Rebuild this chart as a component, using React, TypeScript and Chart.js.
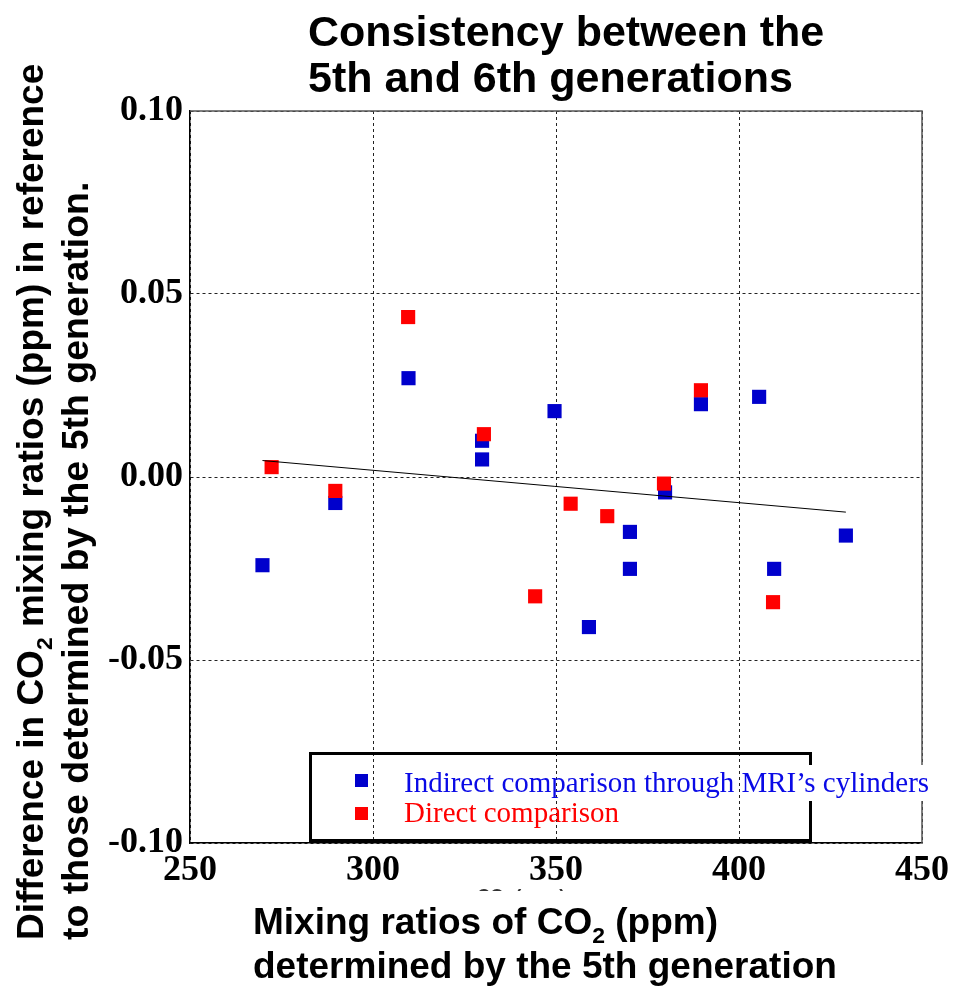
import React, { useEffect, useRef } from 'react';
import { Chart, registerables } from 'chart.js';

Chart.register(...registerables);

// ---- data ----
const blueX = [269.8, 289.7, 309.7, 329.8, 329.8, 349.6, 359.0, 370.2, 370.2, 379.8, 389.6, 405.5, 409.6, 429.2];
const blueY = [-0.0241, -0.0071, 0.0270, 0.0099, 0.0048, 0.0180, -0.0410, -0.0150, -0.0251, -0.0042, 0.0199, 0.0219, -0.0251, -0.0160];
const redX = [272.3, 289.7, 309.6, 330.3, 344.3, 354.0, 364.0, 379.5, 389.6, 409.3];
const redY = [0.0027, -0.0038, 0.0437, 0.0117, -0.0326, -0.0073, -0.0107, -0.0018, 0.0237, -0.0342];
const trendX = [269.8, 429.2];
const trendY = [0.0045, -0.0096];
const xTicks = [250, 300, 350, 400, 450];
const yTicks = [-0.1, -0.05, 0.0, 0.05, 0.1];

const titleLines = ['Consistency between the', '5th and 6th generations'];
const blueLabel = 'Indirect comparison through MRI\u2019s cylinders';
const redLabel = 'Direct comparison';

type Part = { t: string; sub?: boolean };
const yTitle1: Part[] = [{ t: 'Difference in CO' }, { t: '2', sub: true }, { t: ' mixing ratios (ppm) in reference' }];
const yTitle2: Part[] = [{ t: 'to those determined by the 5th generation.' }];
const xTitle1: Part[] = [{ t: 'Mixing ratios of CO' }, { t: '2', sub: true }, { t: ' (ppm)' }];
const xTitle2: Part[] = [{ t: 'determined by the 5th generation' }];

const BLUE = '#0000cc';
const RED = '#ff0000';
const SANS = '"Liberation Sans", Arial, sans-serif';
const SERIF = '"Liberation Serif", "Times New Roman", serif';

function drawRich(ctx: CanvasRenderingContext2D, parts: Part[], x: number, y: number, size: number) {
  let cx = x;
  for (const p of parts) {
    const s = p.sub ? size * 0.62 : size;
    ctx.font = `bold ${s}px ${SANS}`;
    ctx.fillText(p.t, cx, y + (p.sub ? size * 0.24 : 0));
    cx += ctx.measureText(p.t).width;
  }
}

const decorPlugin = {
  id: 'decor',
  afterDraw(chart: any) {
    const ctx: CanvasRenderingContext2D = chart.ctx;
    const a = chart.chartArea;
    ctx.save();
    // top and right frame
    ctx.strokeStyle = '#555';
    ctx.lineWidth = 1.5;
    ctx.setLineDash([]);
    ctx.beginPath();
    ctx.moveTo(a.left, a.top);
    ctx.lineTo(a.right, a.top);
    ctx.lineTo(a.right, a.bottom);
    ctx.stroke();

    ctx.fillStyle = '#000';
    ctx.textAlign = 'left';
    ctx.textBaseline = 'alphabetic';

    // chart title
    ctx.font = `bold 43px ${SANS}`;
    ctx.fillText(titleLines[0], 308, 46);
    ctx.fillText(titleLines[1], 308, 92);

    // y axis title (rotated)
    ctx.save();
    ctx.translate(43, 940);
    ctx.rotate(-Math.PI / 2);
    drawRich(ctx, yTitle1, 0, 0, 37);
    ctx.restore();
    ctx.save();
    ctx.translate(88, 940);
    ctx.rotate(-Math.PI / 2);
    drawRich(ctx, yTitle2, 0, 0, 37.5);
    ctx.restore();

    // x axis title
    drawRich(ctx, xTitle1, 253, 934, 37);
    drawRich(ctx, xTitle2, 253, 978, 37);

    // partially hidden fragment under the tick labels
    ctx.save();
    ctx.beginPath();
    ctx.rect(470, 888, 110, 3);
    ctx.clip();
    ctx.fillStyle = '#333';
    drawRich(ctx, [{ t: 'CO' }, { t: '2', sub: true }, { t: ' (ppm)' }], 477, 902, 18);
    ctx.restore();

    // legend
    const ds = chart.data.datasets;
    ctx.strokeStyle = '#000';
    ctx.lineWidth = 3;
    ctx.strokeRect(310.5, 753.5, 500, 87);
    ctx.fillStyle = '#fff';
    ctx.fillRect(805, 765, 128, 36);
    ctx.fillStyle = ds[2].backgroundColor;
    ctx.fillRect(355, 774, 13, 13);
    ctx.fillStyle = ds[1].backgroundColor;
    ctx.fillRect(355, 807, 13, 13);
    ctx.font = `29px ${SERIF}`;
    ctx.fillStyle = '#0a0ae6';
    ctx.fillText(ds[2].label, 404, 792);
    ctx.fillStyle = RED;
    ctx.fillText(ds[1].label, 404, 822);
    ctx.restore();
  },
};

export default function App() {
  const ref = useRef<HTMLCanvasElement | null>(null);
  useEffect(() => {
    if (!ref.current) return;
    const tickFont = { family: SERIF, size: 36, weight: 'bold' as const };
    const chart = new Chart(ref.current, {
      type: 'scatter',
      data: {
        datasets: [
          {
            type: 'line',
            label: 'trend',
            data: trendX.map((x, i) => ({ x, y: trendY[i] })),
            borderColor: '#000',
            borderWidth: 1,
            pointRadius: 0,
            fill: false,
          } as any,
          {
            label: redLabel,
            data: redX.map((x, i) => ({ x, y: redY[i] })),
            backgroundColor: RED,
            borderWidth: 0,
            pointStyle: 'rect',
            pointRadius: 10,
          },
          {
            label: blueLabel,
            data: blueX.map((x, i) => ({ x, y: blueY[i] })),
            backgroundColor: BLUE,
            borderWidth: 0,
            pointStyle: 'rect',
            pointRadius: 10,
          },
        ],
      },
      options: {
        responsive: true,
        maintainAspectRatio: false,
        animation: false,
        layout: { padding: { top: 111, right: 36, left: 0, bottom: 0 } },
        plugins: { legend: { display: false }, title: { display: false }, tooltip: { enabled: false } },
        scales: {
          x: {
            type: 'linear',
            min: 250,
            max: 450,
            afterBuildTicks: (s: any) => {
              s.ticks = xTicks.map((v) => ({ value: v }));
            },
            afterFit: (s: any) => {
              s.height = 145;
            },
            grid: { color: '#222', lineWidth: 1, drawTicks: false },
            border: { display: true, color: '#000', width: 1.5, dash: [3, 3] },
            ticks: {
              font: tickFont,
              color: '#000',
              padding: 6,
              maxRotation: 0,
              autoSkip: false,
              callback: (v: any) => String(v),
            },
          },
          y: {
            type: 'linear',
            min: -0.1,
            max: 0.1,
            afterBuildTicks: (s: any) => {
              s.ticks = yTicks.map((v) => ({ value: v }));
            },
            afterFit: (s: any) => {
              s.width = 190;
            },
            grid: { color: '#222', lineWidth: 1, drawTicks: false },
            border: { display: true, color: '#000', width: 1.5, dash: [3, 3] },
            ticks: {
              font: tickFont,
              color: '#000',
              padding: 7,
              autoSkip: false,
              callback: (v: any) => Number(v).toFixed(2),
            },
          },
        },
      },
      plugins: [decorPlugin],
    });
    return () => chart.destroy();
  }, []);
  return (
    <div style={{ position: 'absolute', left: 0, top: 0, width: 958, height: 988, background: '#fff' }}>
      <canvas ref={ref} />
    </div>
  );
}
